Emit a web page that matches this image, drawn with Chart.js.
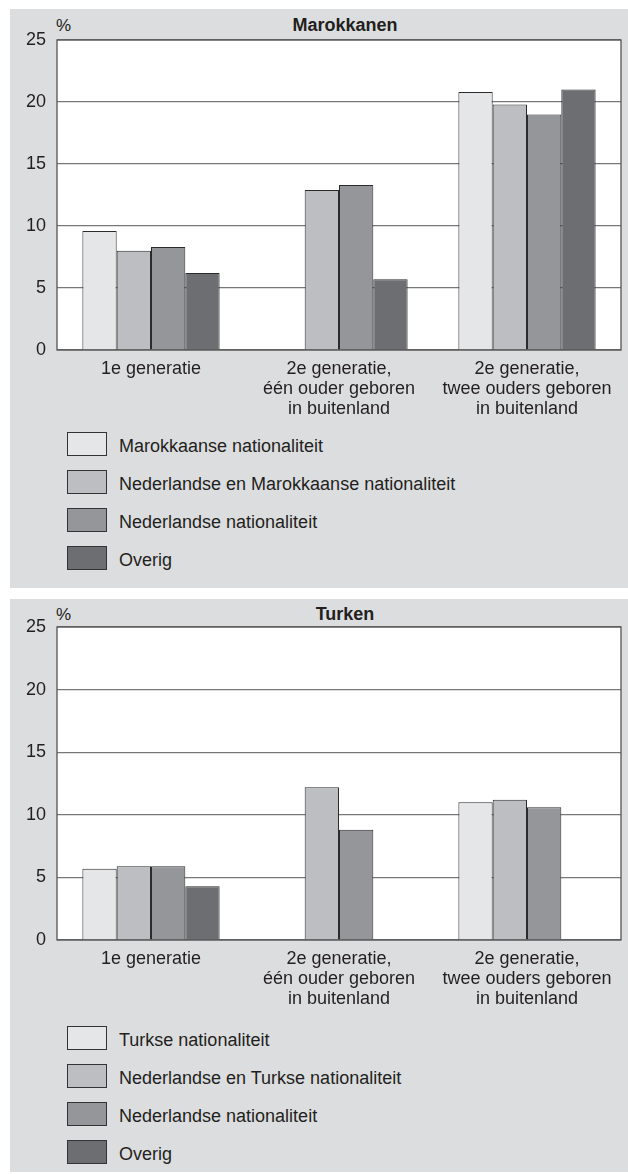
<!DOCTYPE html>
<html>
<head>
<meta charset="utf-8">
<script src="https://cdn.jsdelivr.net/npm/chart.js@4.4.1/dist/chart.umd.min.js"></script>
<style>
  body { margin: 0; background: #fff; width: 628px; height: 1174px; position: relative; overflow: hidden;
         font-family: 'Liberation Sans', Arial, sans-serif; color: #231f20; }
  .panel { position: absolute; left: 10px; width: 618px; background: #dcdddf; }
  .title { position: absolute; width: 200px; text-align: center; font-weight: bold; font-size: 18px; line-height: 20px; }
  .pct { position: absolute; font-size: 17px; line-height: 18px; }
  .box { position: absolute; left: 0; top: 0; width: 618px; height: 422px; }
  .legend { position: absolute; left: 57px; }
  .item { height: 38px; position: relative; }
  .swatch { position: absolute; left: 0; top: 0; width: 38px; height: 22px; border: 1px solid #333; }
  .item span { position: absolute; left: 52px; top: 4px; font-size: 18px; line-height: 20px; white-space: nowrap; }
</style>
</head>
<body>
<div class="panel" style="top:9px;height:579px">
  <div class="title" style="left:235px;top:6px">Marokkanen</div>
  <div class="pct" style="left:46px;top:8px">%</div>
  <div class="box"><canvas id="chartMar"></canvas></div>
  <div class="legend" id="legendMar" style="top:423px"></div>
</div>
<div class="panel" style="top:599px;height:573px">
  <div class="title" style="left:235px;top:5px">Turken</div>
  <div class="pct" style="left:46px;top:7px">%</div>
  <div class="box"><canvas id="chartTur"></canvas></div>
  <div class="legend" id="legendTur" style="top:427px"></div>
</div>
<script>
// categories (x axis)
const categories = [
  '1e generatie',
  ['2e generatie,', 'één ouder geboren', 'in buitenland'],
  ['2e generatie,', 'twee ouders geboren', 'in buitenland']
];
const yTicks = [0, 5, 10, 15, 20, 25];

// Marokkanen (%)
const marLabels = ['Marokkaanse nationaliteit', 'Nederlandse en Marokkaanse nationaliteit', 'Nederlandse nationaliteit', 'Overig'];
const marNat    = [9.6, null, 20.8];
const marNlMar  = [8.0, 12.9, 19.8];
const marNl     = [8.3, 13.3, 19.0];
const marOverig = [6.2, 5.7, 21.0];

// Turken (%)
const turLabels = ['Turkse nationaliteit', 'Nederlandse en Turkse nationaliteit', 'Nederlandse nationaliteit', 'Overig'];
const turNat    = [5.7, null, 11.0];
const turNlTur  = [5.9, 12.2, 11.2];
const turNl     = [5.9, 8.8, 10.6];
const turOverig = [4.3, null, null];

const fills = ['#e5e6e8', '#bdbec1', '#95969a', '#6d6e72'];

Chart.defaults.font.family = "'Liberation Sans', Arial, sans-serif";
Chart.defaults.color = '#231f20';

// white plot area + frame around it
const frame = {
  id: 'frame',
  beforeDraw(chart) {
    const a = chart.chartArea, ctx = chart.ctx;
    ctx.save();
    ctx.fillStyle = '#fff';
    ctx.fillRect(a.left, a.top, a.right - a.left, a.bottom - a.top);
    ctx.restore();
  },
  afterDatasetsDraw(chart) {
    const a = chart.chartArea, ctx = chart.ctx;
    ctx.save();
    ctx.strokeStyle = '#555';
    ctx.lineWidth = 1.3;
    ctx.strokeRect(a.left, a.top, a.right - a.left, a.bottom - a.top);
    ctx.restore();
  }
};

function makeChart(canvasId, legendId, labels, series, padTop) {
  const datasets = series.map((d, i) => ({
    label: labels[i],
    data: d,
    backgroundColor: fills[i],
    borderColor: '#2b2b2b',
    borderWidth: 1,
    categoryPercentage: 0.73,
    barPercentage: 1.0
  }));

  const chart = new Chart(document.getElementById(canvasId), {
    type: 'bar',
    data: { labels: categories, datasets: datasets },
    options: {
      responsive: true,
      maintainAspectRatio: false,
      animation: false,
      layout: { padding: { top: padTop, right: 7, bottom: 3, left: 0 } },
      scales: {
        x: {
          grid: { display: false, drawTicks: false },
          border: { display: false },
          ticks: { padding: 9, maxRotation: 0, font: { size: 18, lineHeight: 1.111 } }
        },
        y: {
          min: 0,
          max: 25,
          afterFit: s => { s.width = 47; },
          afterBuildTicks: s => { s.ticks = yTicks.map(v => ({ value: v })); },
          grid: { color: '#777', lineWidth: 1.2, drawTicks: false },
          border: { display: false },
          ticks: { padding: 11, font: { size: 18 } }
        }
      },
      plugins: {
        legend: { display: false },
        tooltip: { enabled: false }
      }
    },
    plugins: [frame]
  });

  // vertical legend built from the chart's own legend items
  const el = document.getElementById(legendId);
  chart.options.plugins.legend.labels.generateLabels(chart).forEach(it => {
    const row = document.createElement('div');
    row.className = 'item';
    const sw = document.createElement('div');
    sw.className = 'swatch';
    sw.style.background = it.fillStyle;
    const tx = document.createElement('span');
    tx.textContent = it.text;
    row.appendChild(sw);
    row.appendChild(tx);
    el.appendChild(row);
  });
  return chart;
}

makeChart('chartMar', 'legendMar', marLabels, [marNat, marNlMar, marNl, marOverig], 31);
makeChart('chartTur', 'legendTur', turLabels, [turNat, turNlTur, turNl, turOverig], 28);
</script>
</body>
</html>
